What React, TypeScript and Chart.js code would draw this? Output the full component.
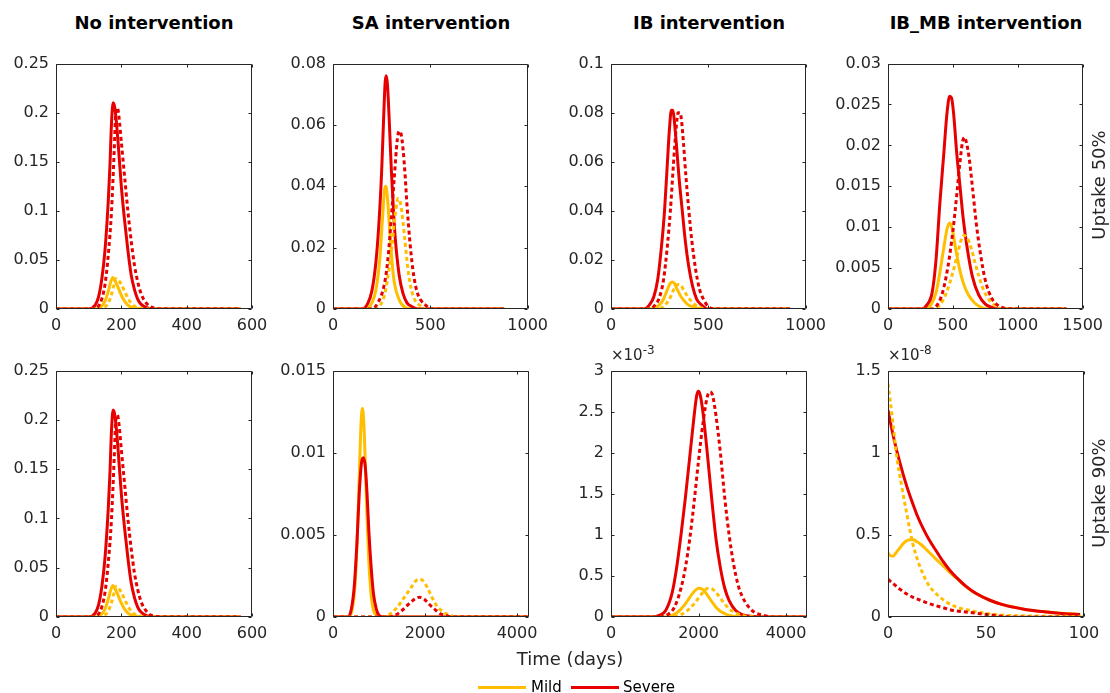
import React, { useEffect, useRef } from "react";
import { Chart, registerables } from "chart.js";

const MILD = "#FFBF00";
const SEVERE = "#E60000";
const AXIS = "#262626";
const FONT = "DejaVu Sans";

type Pt = [number, number];

// ---------- Column titles / row labels ----------
const columnTitles = ["No intervention", "SA intervention", "IB intervention", "IB_MB intervention"];
const rowLabels = ["Uptake 50%", "Uptake 90%"];
const legendLabels = ["Mild", "Severe"];
const xAxisTitle = "Time (days)";

// ---------- No intervention (same in both rows) ----------
const noMildSolid: Pt[] = [[0,0],[125,0],[140,0.003],[150,0.008],[160,0.018],[168,0.028],[174,0.032],[180,0.029],[190,0.022],[200,0.014],[210,0.008],[220,0.004],[235,0.0015],[250,0.0005],[270,0],[565,0]];
const noSevereSolid: Pt[] = [[0,0],[100,0],[120,0.004],[130,0.012],[140,0.03],[150,0.06],[160,0.11],[165,0.145],[170,0.19],[175,0.21],[180,0.205],[185,0.19],[190,0.17],[200,0.125],[210,0.09],[220,0.06],[230,0.035],[240,0.02],[250,0.01],[260,0.005],[280,0.001],[300,0],[565,0]];
const noMildDotted: Pt[] = [[0,0],[135,0],[150,0.002],[160,0.006],[170,0.015],[178,0.025],[185,0.031],[192,0.029],[200,0.025],[210,0.018],[220,0.011],[230,0.006],[240,0.003],[255,0.001],[270,0],[565,0]];
const noSevereDotted: Pt[] = [[0,0],[115,0],[130,0.003],[140,0.01],[150,0.025],[160,0.055],[170,0.1],[178,0.16],[183,0.2],[188,0.205],[193,0.195],[200,0.17],[210,0.135],[220,0.1],[230,0.07],[240,0.045],[250,0.028],[260,0.016],[270,0.009],[285,0.003],[300,0.001],[320,0],[565,0]];

// ---------- SA intervention, uptake 50% ----------
const sa50MildSolid: Pt[] = [[0,0],[170,0],[200,0.002],[220,0.006],[240,0.016],[255,0.03],[265,0.039],[272,0.04],[280,0.036],[290,0.027],[300,0.018],[310,0.011],[320,0.007],[340,0.003],[360,0.001],[400,0],[880,0]];
const sa50SevereSolid: Pt[] = [[0,0],[150,0],[180,0.002],[200,0.006],[220,0.015],[235,0.027],[250,0.045],[260,0.062],[268,0.074],[274,0.076],[280,0.073],[290,0.06],[300,0.045],[310,0.033],[320,0.023],[340,0.011],[360,0.005],[380,0.002],[400,0.001],[440,0],[880,0]];
const sa50MildDotted: Pt[] = [[0,0],[220,0],[250,0.002],[270,0.006],[290,0.014],[305,0.022],[320,0.031],[335,0.036],[345,0.035],[355,0.031],[370,0.022],[385,0.013],[400,0.007],[420,0.003],[450,0.001],[480,0],[880,0]];
const sa50SevereDotted: Pt[] = [[0,0],[200,0],[230,0.002],[260,0.007],[280,0.015],[300,0.03],[315,0.043],[330,0.055],[340,0.058],[350,0.057],[360,0.052],[370,0.044],[380,0.034],[395,0.022],[410,0.013],[430,0.006],[450,0.003],[480,0.001],[500,0],[880,0]];

// ---------- IB intervention, uptake 50% ----------
const ib50MildSolid: Pt[] = [[0,0],[200,0],[240,0.001],[270,0.004],[290,0.008],[305,0.0105],[315,0.011],[325,0.0105],[340,0.008],[360,0.005],[380,0.003],[400,0.0015],[420,0.001],[450,0.0003],[480,0],[920,0]];
const ib50SevereSolid: Pt[] = [[0,0],[170,0],[200,0.002],[220,0.005],[240,0.012],[260,0.026],[275,0.04],[290,0.06],[300,0.073],[310,0.081],[318,0.081],[325,0.077],[335,0.068],[350,0.053],[365,0.041],[380,0.029],[400,0.017],[420,0.009],[440,0.004],[460,0.002],[500,0],[920,0]];
const ib50MildDotted: Pt[] = [[0,0],[230,0],[270,0.001],[300,0.004],[320,0.0075],[335,0.0095],[345,0.01],[360,0.0095],[375,0.0075],[395,0.005],[415,0.003],[435,0.0015],[460,0.0005],[490,0],[920,0]];
const ib50SevereDotted: Pt[] = [[0,0],[200,0],[230,0.002],[250,0.005],[270,0.012],[290,0.026],[305,0.04],[320,0.058],[335,0.074],[345,0.08],[355,0.08],[362,0.077],[372,0.068],[385,0.054],[400,0.04],[415,0.028],[435,0.016],[455,0.008],[475,0.004],[500,0.001],[530,0],[920,0]];

// ---------- IB_MB intervention, uptake 50% ----------
const ibmb50MildSolid: Pt[] = [[0,0],[280,0],[330,0.0005],[370,0.002],[400,0.0045],[430,0.0075],[455,0.0098],[475,0.0105],[495,0.0098],[520,0.0075],[550,0.005],[580,0.0032],[620,0.0017],[670,0.0007],[720,0.0002],[780,0],[1375,0]];
const ibmb50SevereSolid: Pt[] = [[0,0],[260,0],[300,0.0005],[340,0.002],[370,0.006],[400,0.013],[430,0.019],[455,0.024],[475,0.026],[490,0.0258],[505,0.024],[530,0.019],[555,0.015],[580,0.011],[610,0.0075],[650,0.004],[700,0.0017],[750,0.0006],[800,0.0002],[850,0],[1375,0]];
const ibmb50MildDotted: Pt[] = [[0,0],[350,0],[400,0.0005],[450,0.002],[500,0.0045],[540,0.007],[570,0.0087],[590,0.009],[610,0.0087],[640,0.0075],[670,0.0057],[700,0.004],[740,0.0022],[790,0.0009],[850,0.0002],[900,0],[1375,0]];
const ibmb50SevereDotted: Pt[] = [[0,0],[340,0],[380,0.0005],[420,0.002],[460,0.005],[500,0.0095],[530,0.014],[555,0.018],[575,0.0205],[590,0.021],[605,0.0203],[625,0.0185],[650,0.015],[680,0.0105],[710,0.007],[750,0.0035],[800,0.0013],[850,0.0004],[900,0.0001],[950,0],[1375,0]];

// ---------- SA intervention, uptake 90% ----------
const sa90MildSolid: Pt[] = [[0,0],[350,0],[420,0.0005],[480,0.002],[530,0.005],[570,0.0085],[610,0.0118],[640,0.0127],[670,0.0118],[700,0.0095],[740,0.006],[780,0.0033],[830,0.0013],[880,0.0004],[950,0.0001],[1000,0],[4240,0]];
const sa90SevereSolid: Pt[] = [[0,0],[330,0],[400,0.0005],[460,0.0018],[520,0.0045],[570,0.0075],[620,0.0094],[660,0.0097],[700,0.0092],[740,0.0075],[780,0.0052],[830,0.003],[880,0.0014],[940,0.0005],[1000,0.0001],[1100,0],[4240,0]];
const sa90MildDotted: Pt[] = [[0,0],[1100,0],[1250,0.0002],[1400,0.0006],[1550,0.0012],[1700,0.0018],[1800,0.0022],[1880,0.0023],[1960,0.0022],[2050,0.0018],[2150,0.0012],[2250,0.0007],[2400,0.0003],[2550,0.0001],[2700,0],[4240,0]];
const sa90SevereDotted: Pt[] = [[0,0],[1200,0],[1350,0.0001],[1500,0.0004],[1650,0.0008],[1780,0.0011],[1880,0.0012],[1980,0.0011],[2080,0.0008],[2200,0.0005],[2330,0.0002],[2450,0.0001],[2600,0],[4240,0]];

// ---------- IB intervention, uptake 90% (x 1e-3) ----------
const ib90MildSolid: Pt[] = [[0,0],[1200,0],[1400,0.02],[1550,0.07],[1700,0.16],[1800,0.24],[1900,0.31],[2000,0.35],[2080,0.34],[2200,0.27],[2300,0.19],[2400,0.12],[2500,0.07],[2650,0.03],[2800,0.01],[3000,0],[4480,0]];
const ib90SevereSolid: Pt[] = [[0,0],[900,0],[1100,0.02],[1250,0.08],[1400,0.3],[1500,0.6],[1600,1.0],[1700,1.45],[1800,1.95],[1900,2.45],[1960,2.7],[2000,2.75],[2040,2.7],[2100,2.5],[2200,2.0],[2300,1.45],[2400,0.95],[2500,0.6],[2600,0.35],[2700,0.2],[2850,0.08],[3000,0.03],[3200,0.01],[3400,0],[4480,0]];
const ib90MildDotted: Pt[] = [[0,0],[1400,0],[1600,0.03],[1750,0.08],[1900,0.16],[2000,0.23],[2100,0.3],[2220,0.35],[2300,0.345],[2400,0.3],[2500,0.23],[2600,0.16],[2700,0.1],[2850,0.05],[3000,0.02],[3200,0.005],[3400,0],[4480,0]];
const ib90SevereDotted: Pt[] = [[0,0],[1100,0],[1300,0.03],[1450,0.12],[1600,0.35],[1700,0.6],[1800,0.95],[1900,1.4],[2000,1.9],[2100,2.35],[2200,2.68],[2260,2.74],[2320,2.7],[2400,2.45],[2500,2.0],[2600,1.45],[2700,1.0],[2800,0.65],[2900,0.4],[3000,0.25],[3150,0.12],[3300,0.05],[3500,0.02],[3700,0],[4480,0]];

// ---------- IB_MB intervention, uptake 90% (x 1e-8) ----------
const ibmb90MildSolid: Pt[] = [[0,0.39],[1,0.375],[2.6,0.37],[4,0.39],[6,0.42],[8,0.45],[11,0.47],[13,0.47],[14.5,0.46],[17,0.44],[19.6,0.41],[23,0.37],[26.4,0.33],[30,0.29],[33,0.255],[35,0.237],[40,0.182],[45,0.142],[52,0.102],[58,0.077],[64,0.061],[70,0.046],[81,0.031],[90,0.021],[98,0.016]];
const ibmb90SevereSolid: Pt[] = [[0,1.26],[2,1.14],[4.3,1.02],[7.7,0.87],[10,0.78],[12.8,0.685],[15,0.615],[17.9,0.54],[21,0.47],[24.7,0.4],[28,0.34],[31.5,0.285],[35,0.24],[40,0.185],[45,0.143],[52,0.102],[58,0.077],[63.9,0.06],[70,0.046],[81,0.03],[90,0.02],[98,0.015]];
const ibmb90MildDotted: Pt[] = [[0,1.42],[1,1.33],[2.6,1.17],[4.3,0.99],[6.8,0.81],[9.4,0.64],[12.8,0.44],[15,0.35],[17.9,0.26],[21,0.19],[24.7,0.14],[30,0.09],[35,0.06],[40,0.045],[47,0.027],[55,0.015],[60.5,0.01],[70,0.007],[80,0.005],[90,0.004],[100,0.003]];
const ibmb90SevereDotted: Pt[] = [[0,0.23],[3,0.2],[6,0.17],[9,0.145],[12.8,0.12],[17,0.1],[21.3,0.08],[27,0.06],[33.3,0.04],[40,0.03],[47,0.02],[54,0.01],[60,0.002],[62,0],[100,0]];

// ---------- Axis limits and ticks ----------
const xMaxs = [600, 1000, 1000, 1500, 600, 4260, 4480, 100];
const yMaxs = [0.25, 0.08, 0.1, 0.03, 0.25, 0.015, 3, 1.5];
const xTickSets = [
  [0, 200, 400, 600], [0, 500, 1000], [0, 500, 1000], [0, 500, 1000, 1500],
  [0, 200, 400, 600], [0, 2000, 4000], [0, 2000, 4000], [0, 50, 100],
];
const yTickSets = [
  [0, 0.05, 0.1, 0.15, 0.2, 0.25], [0, 0.02, 0.04, 0.06, 0.08], [0, 0.02, 0.04, 0.06, 0.08, 0.1],
  [0, 0.005, 0.01, 0.015, 0.02, 0.025, 0.03],
  [0, 0.05, 0.1, 0.15, 0.2, 0.25], [0, 0.005, 0.01, 0.015], [0, 0.5, 1, 1.5, 2, 2.5, 3], [0, 0.5, 1, 1.5],
];
const exponents = [null, null, null, null, null, null, "-3", "-8"];

const seriesSets: Pt[][][] = [
  [noMildSolid, noSevereSolid, noMildDotted, noSevereDotted],
  [sa50MildSolid, sa50SevereSolid, sa50MildDotted, sa50SevereDotted],
  [ib50MildSolid, ib50SevereSolid, ib50MildDotted, ib50SevereDotted],
  [ibmb50MildSolid, ibmb50SevereSolid, ibmb50MildDotted, ibmb50SevereDotted],
  [noMildSolid, noSevereSolid, noMildDotted, noSevereDotted],
  [sa90MildSolid, sa90SevereSolid, sa90MildDotted, sa90SevereDotted],
  [ib90MildSolid, ib90SevereSolid, ib90MildDotted, ib90SevereDotted],
  [ibmb90MildSolid, ibmb90SevereSolid, ibmb90MildDotted, ibmb90SevereDotted],
];

// layout (pixels)
const boxLefts = [56, 333, 611, 888];
const boxTops = [61, 368];
const boxHeights = [248, 249];
const BOX_W = 196;
const PADL = 60, PADT = 14, PADR = 26, PADB = 34;

const fmt = (v: number) => String(+(+v).toFixed(6));

const framePlugin = {
  id: "axesFrame",
  afterDatasetsDraw(chart: any) {
    const ctx = chart.ctx;
    const a = chart.chartArea;
    const sx = chart.scales.x, sy = chart.scales.y;
    ctx.save();
    ctx.setLineDash([]);
    ctx.strokeStyle = AXIS;
    ctx.lineWidth = 1;
    const l = Math.round(a.left) + 0.5, r = Math.round(a.right) - 0.5;
    const t = Math.round(a.top) + 0.5, b = Math.round(a.bottom) - 0.5;
    ctx.beginPath();
    ctx.rect(l, t, r - l, b - t);
    const L = 3;
    for (const tk of sx.ticks) {
      const px = Math.round(sx.getPixelForValue(tk.value)) + 0.5;
      ctx.moveTo(px, b); ctx.lineTo(px, b - L);
      ctx.moveTo(px, t); ctx.lineTo(px, t + L);
    }
    for (const tk of sy.ticks) {
      const py = Math.round(sy.getPixelForValue(tk.value)) + 0.5;
      ctx.moveTo(l, py); ctx.lineTo(l + L, py);
      ctx.moveTo(r, py); ctx.lineTo(r - L, py);
    }
    ctx.stroke();
    ctx.restore();
  },
};

Chart.register(...registerables, framePlugin);

function Panel({ idx }: { idx: number }) {
  const ref = useRef<HTMLCanvasElement>(null);
  const col = idx % 4, row = Math.floor(idx / 4);
  const boxH = boxHeights[row];
  const w = BOX_W + PADL + PADR, h = boxH + PADT + PADB;
  useEffect(() => {
    const styles = [
      { color: MILD, dash: [] as number[] },
      { color: SEVERE, dash: [] as number[] },
      { color: MILD, dash: [4, 3] },
      { color: SEVERE, dash: [4, 3] },
    ];
    const datasets = seriesSets[idx].map((pts, i) => ({
      data: pts.map(([x, y]) => ({ x, y })),
      borderColor: styles[i].color,
      borderDash: styles[i].dash,
      borderWidth: 3,
      pointRadius: 0,
      fill: false,
      cubicInterpolationMode: "monotone" as const,
      order: 3 - i,
    }));
    const tickFont = { family: FONT, size: 16 };
    const chart = new Chart(ref.current!, {
      type: "line",
      data: { datasets },
      options: {
        animation: false,
        responsive: false,
        maintainAspectRatio: false,
        layout: { padding: { left: 0, top: PADT, right: PADR, bottom: 0 } },
        plugins: { legend: { display: false }, tooltip: { enabled: false }, title: { display: false } },
        scales: {
          x: {
            type: "linear",
            min: 0,
            max: xMaxs[idx],
            grid: { display: false, drawTicks: false, tickLength: 0 },
            border: { display: false },
            afterBuildTicks: (ax: any) => { ax.ticks = xTickSets[idx].map((v) => ({ value: v })); },
            afterFit: (ax: any) => { ax.height = PADB; },
            ticks: { color: AXIS, font: tickFont, padding: 7, maxRotation: 0, autoSkip: false, callback: (v: any) => fmt(v) },
          },
          y: {
            type: "linear",
            min: 0,
            max: yMaxs[idx],
            grid: { display: false, drawTicks: false, tickLength: 0 },
            border: { display: false },
            afterBuildTicks: (ax: any) => { ax.ticks = yTickSets[idx].map((v) => ({ value: v })); },
            afterFit: (ax: any) => { ax.width = PADL; },
            ticks: { color: AXIS, font: tickFont, padding: 7, autoSkip: false, callback: (v: any) => fmt(v) },
          },
        },
      } as any,
    });
    return () => chart.destroy();
  }, [idx]);
  return (
    <canvas
      ref={ref}
      width={w}
      height={h}
      style={{ position: "absolute", left: boxLefts[col] - PADL, top: boxTops[row] - PADT, width: w, height: h }}
    />
  );
}

export default function App() {
  const text: React.CSSProperties = { position: "absolute", fontFamily: FONT, color: AXIS, whiteSpace: "nowrap" };
  return (
    <div style={{ position: "absolute", left: 0, top: 0, width: 1110, height: 693, overflow: "hidden", background: "#fff" }}>
      {Array.from({ length: 8 }, (_, i) => <Panel key={i} idx={i} />)}
      {columnTitles.map((t, c) => (
        <div key={t} style={{ ...text, color: "#000", fontWeight: "bold", fontSize: 18, lineHeight: "22px", left: boxLefts[c] + BOX_W / 2 - 150, width: 300, textAlign: "center", top: 12 }}>{t}</div>
      ))}
      {rowLabels.map((t, r) => (
        <div key={t} style={{ ...text, fontSize: 18, lineHeight: "20px", left: 1099, top: boxTops[r] + boxHeights[r] / 2, transform: "translate(-50%, -50%) rotate(-90deg)" }}>{t}</div>
      ))}
      {exponents.map((e, i) =>
        e ? (
          <div key={i} style={{ ...text, fontSize: 15, lineHeight: "15px", left: boxLefts[i % 4], top: 348 }}>
            ×10<span style={{ fontSize: 12, position: "relative", top: -6 }}>{e}</span>
          </div>
        ) : null
      )}
      <div style={{ ...text, fontSize: 18, lineHeight: "18px", left: 370, width: 400, textAlign: "center", top: 650 }}>{xAxisTitle}</div>
      <div style={{ position: "absolute", left: 478, top: 686, width: 48, height: 3, background: MILD }} />
      <div style={{ ...text, color: "#000", fontSize: 15, lineHeight: "15px", left: 531, top: 680 }}>{legendLabels[0]}</div>
      <div style={{ position: "absolute", left: 571, top: 686, width: 48, height: 3, background: SEVERE }} />
      <div style={{ ...text, color: "#000", fontSize: 15, lineHeight: "15px", left: 623, top: 680 }}>{legendLabels[1]}</div>
    </div>
  );
}
